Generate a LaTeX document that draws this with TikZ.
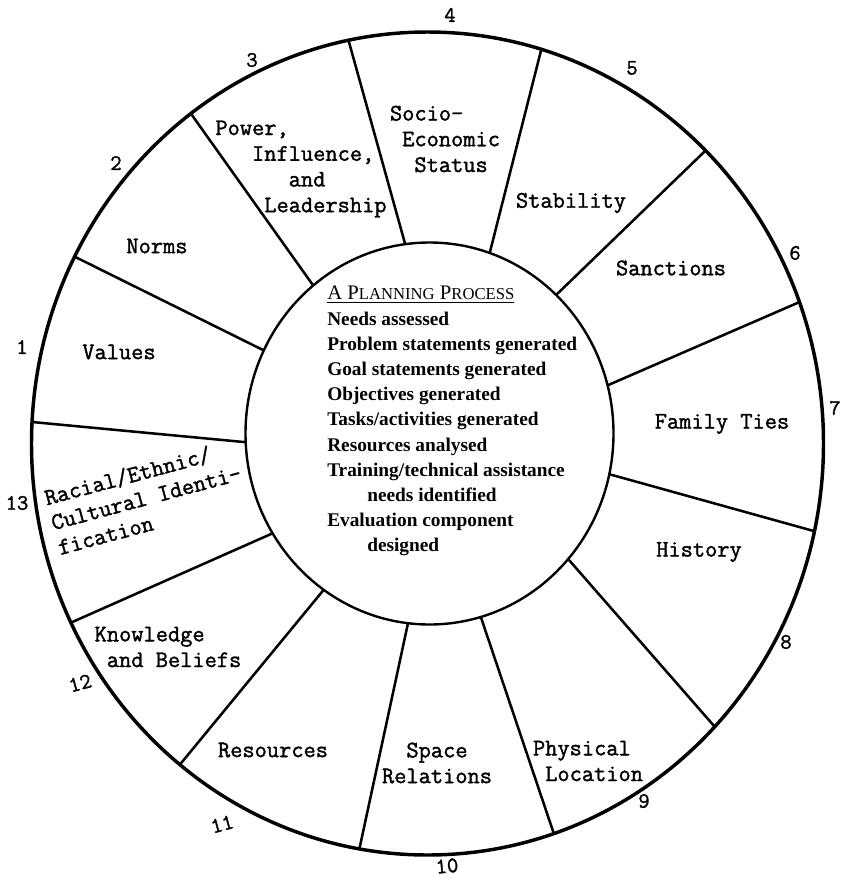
\documentclass[tikz,border=0pt]{standalone}
\usepackage{fontspec}
\newfontfamily\procfont{Liberation Serif}
\newfontfamily\typefont{Latin Modern Mono}[FakeBold=1.5]
\newcommand{\smc}[1]{{\fontsize{12.5}{12.5}\selectfont #1}}

\begin{document}
\begin{tikzpicture}[x=0.75pt,y=0.75pt,yscale=-1,xscale=1,
  rim/.style={line width=2.6pt},
  hub/.style={line width=1.8pt},
  spoke/.style={line width=1.9pt},
  sector/.style={inner sep=0pt,font=\typefont\fontsize{17.8}{19.3}\selectfont},
  num/.style={inner sep=0pt,font=\typefont\fontsize{16.5}{16.5}\selectfont}]
\useasboundingbox (0,0) rectangle (844,879);

%Shape: Ellipse [outer rim]
\draw [rim] (427.5,443.5) ellipse (396 and 411.5);
%Shape: Ellipse [hub]
\draw [hub] (429.5,433.5) ellipse (184 and 191);

%Shape: Spokes, from hub to rim
\draw [spoke] (263.8,350.4) -- (74.7,256.7);
\draw [spoke] (313.2,285.5) -- (190.9,113.6);
\draw [spoke] (405.2,244.2) -- (348.5,40.3);
\draw [spoke] (489.7,253.0) -- (541.3,49.4);
\draw [spoke] (556.2,294.9) -- (705.6,150.5);
\draw [spoke] (607.6,385.3) -- (799.4,302.1);
\draw [spoke] (609.3,474.2) -- (814.4,531.2);
\draw [spoke] (568.2,559.1) -- (714.8,726.8);
\draw [spoke] (480.8,616.9) -- (553.8,833.5);
\draw [spoke] (408.0,623.2) -- (359.4,848.9);
\draw [spoke] (323.7,589.8) -- (179.9,764.6);
\draw [spoke] (272.6,533.3) -- (71.0,622.6);
\draw [spoke] (245.7,442.2) -- (32.1,422.0);

% Text Node
\node (values) [sector] at (119,352) {Values};
% Text Node
\node (norms) [sector] at (157,246) {Norms};
% Text Node
\node (power) [sector,align=left] at (301,169) {Power,\\\hphantom{xxx}Influence,\\\hphantom{xxxxxx}and\\\hphantom{xxxx}Leadership};
% Text Node
\node (status) [sector,align=left] at (445,139) {Socio-\\\hphantom{x}Economic\\\hphantom{xx}Status};
% Text Node
\node (stability) [sector] at (571,203) {Stability};
% Text Node
\node (sanctions) [sector] at (671,268) {Sanctions};
% Text Node
\node (family) [sector] at (722,424) {Family Ties};
% Text Node
\node (history) [sector] at (699,552) {History};
% Text Node
\node (location) [sector,align=left] at (588,761) {Physical\\\hphantom{x}Location};
% Text Node
\node (space) [sector,align=center] at (437,763) {Space\\Relations};
% Text Node
\node (resources) [sector] at (273,750) {Resources};
% Text Node
\node (beliefs) [sector,align=left] at (168,647) {Knowledge\\\hphantom{x}and Beliefs};
% Text Node
\node (racial) [sector,align=left,rotate=15] at (146,497) {Racial/Ethnic/\\Cultural Identi-\\fication};

% Text Node
\node (steps) [anchor=north west,inner sep=0pt,align=left,font=\procfont\bfseries\fontsize{14.5}{18.9}\selectfont] at (327,286) {%
{\mdseries\underline{\fontsize{15.5}{15.5}\selectfont A P\smc{LANNING} P\smc{ROCESS}}}\\
Needs assessed\\
Problem statements generated\\
Goal statements generated\\
Objectives generated\\
Tasks/activities generated\\
Resources analysed\\
Training/technical assistance\\
\hspace*{30pt}needs identified\\
Evaluation component\\
\hspace*{30pt}designed};

% Text Node
\node (n1) [num] at (22,347) {1};
\node (n2) [num] at (116,163) {2};
\node (n3) [num] at (252,60) {3};
\node (n4) [num] at (450,15) {4};
\node (n5) [num] at (632,68) {5};
\node (n6) [num] at (795,253) {6};
\node (n7) [num] at (835,408) {7};
\node (n8) [num] at (786,642) {8};
\node (n9) [num] at (644,801) {9};
\node (n10) [num,rotate=5] at (447,866) {10};
\node (n11) [num,rotate=15] at (222,824) {11};
\node (n12) [num,rotate=15] at (80,683) {12};
\node (n13) [num] at (17,503) {13};

\end{tikzpicture}
\end{document}
